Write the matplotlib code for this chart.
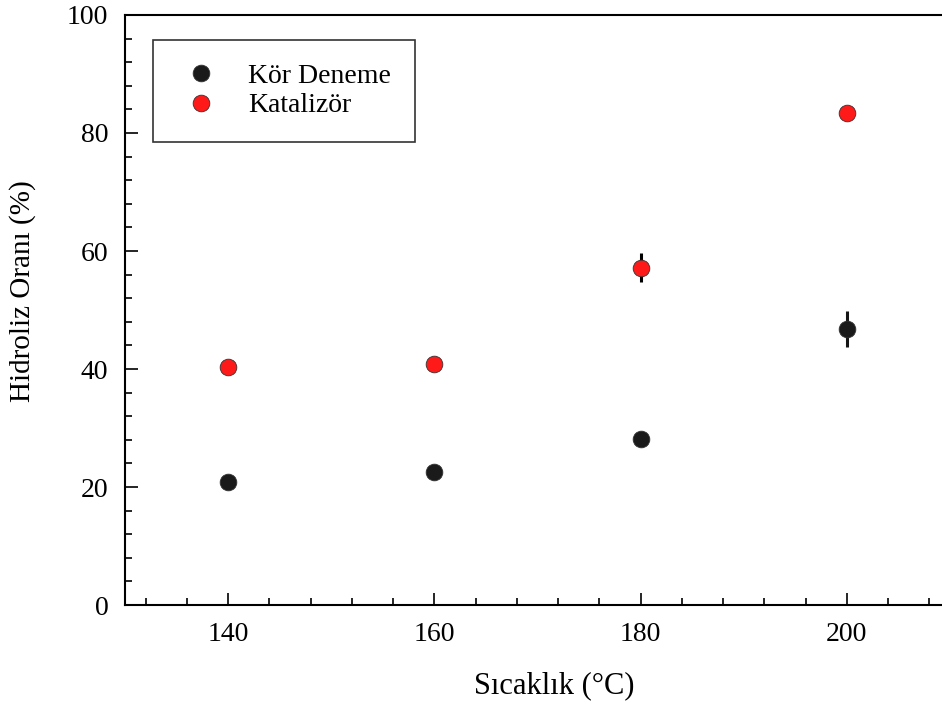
import matplotlib.pyplot as plt
from matplotlib.ticker import MultipleLocator

# hydrolysis ratio vs. temperature
sicaklik = [140, 160, 180, 200]
kor_deneme = [20.8, 22.6, 28.1, 46.8]
kor_hata = [0.0, 0.0, 0.0, 3.0]
katalizor = [40.4, 40.8, 57.2, 83.4]
katalizor_hata = [0.0, 0.0, 2.4, 0.0]

plt.rcParams['font.family'] = ['Liberation Serif', 'DejaVu Serif']

DPI = 100
fig = plt.figure(figsize=(942 / DPI, 704 / DPI), dpi=DPI)
ax = fig.add_axes([0.1327, 0.1406, 0.8758, 0.8381])

ax.errorbar(sicaklik, kor_deneme, yerr=kor_hata, fmt='o', color='#151515',
            mfc='#1a1a1a', mec='#333333', mew=0.6, ms=12, elinewidth=2.2,
            capsize=0, label='Kör Deneme', zorder=3)
ax.errorbar(sicaklik, katalizor, yerr=katalizor_hata, fmt='o', color='black',
            mfc='#ff1a1a', mec='#333333', mew=0.6, ms=12, elinewidth=2.2,
            capsize=0, label='Katalizör', zorder=3)

ax.set_xlim(130, 210)
ax.set_ylim(0, 100)
ax.xaxis.set_major_locator(MultipleLocator(20))
ax.xaxis.set_minor_locator(MultipleLocator(4))
ax.yaxis.set_major_locator(MultipleLocator(20))
ax.yaxis.set_minor_locator(MultipleLocator(4))
ax.tick_params(which='both', direction='in', top=False, right=False,
               labelsize=20, width=1.2)
ax.tick_params(which='major', length=9, pad=12)
ax.tick_params(which='minor', length=5)
for s in ax.spines.values():
    s.set_linewidth(1.5)

ax.set_xlabel('Sıcaklık (°C)', fontsize=22)
ax.set_ylabel('Hidroliz Oranı (%)', fontsize=21)
ax.xaxis.set_label_coords(0.52, -0.113)
ax.yaxis.set_label_coords(-0.108, 0.532)

handles, labels = ax.get_legend_handles_labels()
handles = [h[0] for h in handles]
leg = ax.legend(handles, labels, loc='upper left', bbox_to_anchor=(0.034, 0.958),
                borderaxespad=0, fancybox=False, frameon=True, fontsize=20,
                handlelength=1.74, handletextpad=0.83, borderpad=0.85,
                labelspacing=0.15)
leg.get_frame().set_edgecolor('black')
leg.get_frame().set_linewidth(1.2)

fig.savefig('out.png', dpi=DPI)
